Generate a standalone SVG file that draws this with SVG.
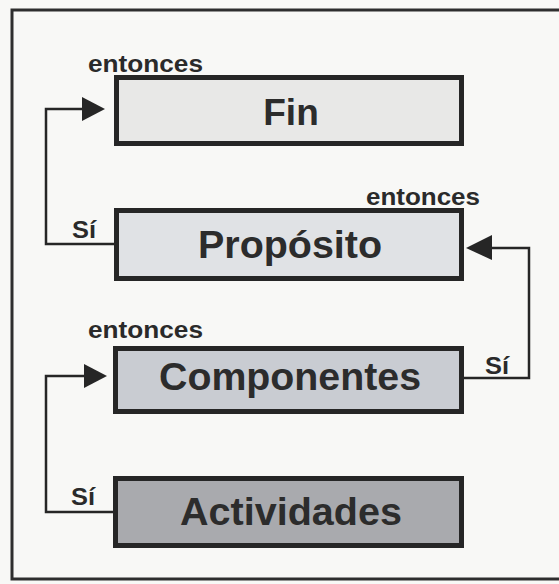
<svg xmlns="http://www.w3.org/2000/svg" width="559" height="584" viewBox="0 0 559 584">
<defs>
<style>
.frame{fill:none;stroke:#2e2e2e;stroke-width:3}
.box{stroke:#262626;stroke-width:5}
.title{font-family:"Liberation Sans",Arial,sans-serif;font-weight:bold;fill:#2c2c2c;text-anchor:middle}
.lbl{font-family:"Liberation Sans",Arial,sans-serif;font-weight:bold;fill:#2a2a2a;font-size:23px}
.conn{fill:none;stroke:#262626;stroke-width:2.5}
</style>
</defs>
<rect x="0" y="0" width="559" height="584" fill="#f8f8f6"/>
<rect class="frame" x="12" y="10" width="570" height="569"/>

<g id="connectors">
<path class="conn" d="M114,244 H46 V109 H84"/>
<path d="M82,97 L105,109 L82,121 Z" fill="#262626"/>
<path class="conn" d="M464,378 H529 V248 H490"/>
<path d="M492,235 L466,248 L492,260 Z" fill="#262626"/>
<path class="conn" d="M113,512 H46 V376 H86"/>
<path d="M84,364 L107,376 L84,388 Z" fill="#262626"/>
<text class="lbl" x="72" y="238" textLength="24" lengthAdjust="spacingAndGlyphs">Sí</text>
<text class="lbl" x="485" y="374" textLength="24" lengthAdjust="spacingAndGlyphs">Sí</text>
<text class="lbl" x="71" y="505" textLength="24" lengthAdjust="spacingAndGlyphs">Sí</text>
</g>

<g id="fin">
<rect class="box" x="116.5" y="77.5" width="345" height="66" fill="#e8e8e7"/>
<text class="lbl" x="88" y="72" textLength="115" lengthAdjust="spacingAndGlyphs">entonces</text>
<text class="title" x="291" y="125" font-size="37">Fin</text>
</g>

<g id="proposito">
<rect class="box" x="116.5" y="210.5" width="345" height="68" fill="#e0e2e5"/>
<text class="lbl" x="366" y="205" textLength="114" lengthAdjust="spacingAndGlyphs">entonces</text>
<text class="title" x="290" y="258" font-size="38" textLength="184" lengthAdjust="spacingAndGlyphs">Propósito</text>
</g>

<g id="componentes">
<rect class="box" x="115.5" y="348.5" width="346" height="63" fill="#c9ccd2"/>
<text class="lbl" x="88" y="338" textLength="115" lengthAdjust="spacingAndGlyphs">entonces</text>
<text class="title" x="290" y="390" font-size="39" textLength="262" lengthAdjust="spacingAndGlyphs">Componentes</text>
</g>

<g id="actividades">
<rect class="box" x="115.5" y="478.5" width="346" height="67" fill="#a9aaae"/>
<text class="title" x="291" y="525" font-size="39" textLength="222" lengthAdjust="spacingAndGlyphs">Actividades</text>
</g>
</svg>
